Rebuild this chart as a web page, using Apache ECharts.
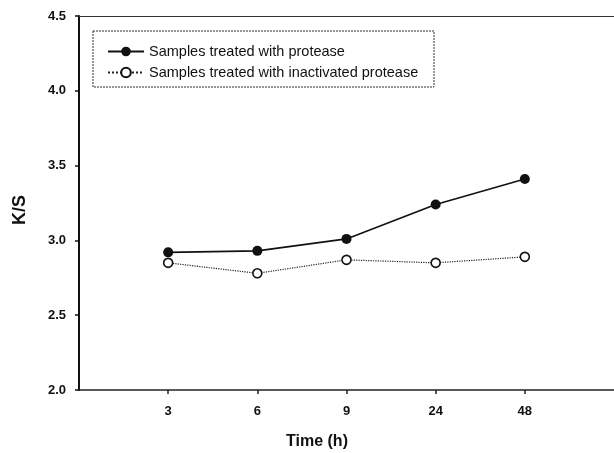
<!DOCTYPE html>
<html>
<head>
<meta charset="utf-8">
<script src="https://cdn.jsdelivr.net/npm/echarts@6/dist/echarts.min.js"></script>
<style>
  html, body { margin: 0; padding: 0; background: #fff; }
  #chart { width: 614px; height: 453px; }
</style>
</head>
<body>
<div id="chart"></div>
<script>
var times = ['3', '6', '9', '24', '48'];
var activeKS = [2.92, 2.93, 3.01, 3.24, 3.41];
var inactiveKS = [2.85, 2.78, 2.87, 2.85, 2.89];
var yTicks = [2.0, 2.5, 3.0, 3.5, 4.0, 4.5];

var font = 'Liberation Sans, Arial, sans-serif';

function pairs(vals) {
  return vals.map(function (v, i) { return [i + 1, v]; });
}

var myChart = echarts.init(document.getElementById('chart'));

var option = {
  backgroundColor: '#fff',
  animation: false,
  grid: { left: 79, right: -2, top: 16, bottom: 63 },
  legend: {
    orient: 'vertical',
    left: 102,
    top: 39,
    itemWidth: 36,
    itemHeight: 12,
    itemGap: 6,
    textStyle: { fontFamily: font, fontSize: 14.5, color: '#111' },
    data: ['Samples treated with protease', 'Samples treated with inactivated protease']
  },
  graphic: [
    {
      type: 'rect',
      shape: { x: 93, y: 31, width: 341, height: 56 },
      style: { fill: 'none', stroke: '#333', lineWidth: 1, lineDash: [2, 1] },
      z: 0
    },
    {
      type: 'text',
      x: 317,
      y: 442,
      style: { text: 'Time (h)', font: 'bold 16px ' + font, fill: '#111', align: 'center', verticalAlign: 'middle' }
    },
    {
      type: 'text',
      x: 20,
      y: 210,
      rotation: Math.PI / 2,
      style: { text: 'K/S', font: 'bold 18px ' + font, fill: '#111', align: 'center', verticalAlign: 'middle' }
    }
  ],
  xAxis: [
    {
      type: 'value',
      min: 0,
      max: 6,
      interval: 1,
      splitLine: { show: false },
      axisLine: { lineStyle: { color: '#222', width: 1.5 } },
      axisTick: { customValues: [1, 2, 3, 4, 5], length: 4, lineStyle: { color: '#222', width: 1.5 } },
      axisLabel: {
        customValues: [1, 2, 3, 4, 5],
        formatter: function (v) { return times[Math.round(v) - 1] || ''; },
        margin: 15,
        fontFamily: font,
        fontSize: 13,
        fontWeight: 'bold',
        color: '#111'
      }
    },
    {
      type: 'value',
      position: 'top',
      min: 0,
      max: 6,
      splitLine: { show: false },
      axisLine: { show: true, lineStyle: { color: '#333', width: 1.2 } },
      axisTick: { show: false },
      axisLabel: { show: false }
    }
  ],
  yAxis: {
    type: 'value',
    min: 2.0,
    max: 4.5,
    interval: 0.5,
    splitLine: { show: false },
    axisLine: { show: true, lineStyle: { color: '#111', width: 2 } },
    axisTick: { show: true, length: 4, lineStyle: { color: '#111', width: 1.5 } },
    axisLabel: {
      customValues: yTicks,
      formatter: function (v) { return v.toFixed(1); },
      margin: 13,
      fontFamily: font,
      fontSize: 13,
      fontWeight: 'bold',
      color: '#111'
    }
  },
  series: [
    {
      name: 'Samples treated with protease',
      type: 'line',
      data: pairs(activeKS),
      symbol: 'circle',
      symbolSize: 10,
      itemStyle: { color: '#111' },
      lineStyle: { color: '#111', width: 1.6, type: 'solid' },
      z: 3
    },
    {
      name: 'Samples treated with inactivated protease',
      type: 'line',
      data: pairs(inactiveKS),
      symbol: 'circle',
      symbolSize: 9,
      itemStyle: { color: '#fff', borderColor: '#111', borderWidth: 1.6 },
      lineStyle: { color: '#222', width: 1.2, type: 'dotted' },
      z: 2
    }
  ]
};

myChart.setOption(option);
window.addEventListener('resize', () => {
  myChart.resize();
});
</script>
</body>
</html>
